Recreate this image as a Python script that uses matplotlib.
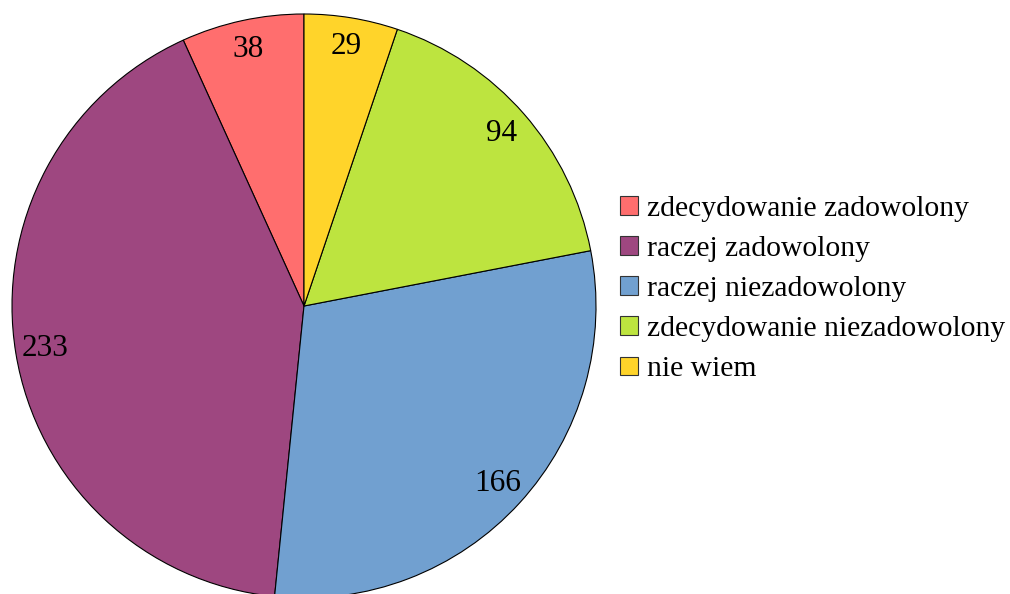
import matplotlib.pyplot as plt
from matplotlib.patches import Patch

# data
labels = ["zdecydowanie zadowolony", "raczej zadowolony", "raczej niezadowolony",
          "zdecydowanie niezadowolony", "nie wiem"]
values = [38, 233, 166, 94, 29]
colors = ["#FF6E6E", "#9E4780", "#71A0D0", "#BDE43F", "#FFD42A"]

plt.rcParams['font.family'] = ['Liberation Serif', 'DejaVu Serif']

W, H = 1010, 594
fig = plt.figure(figsize=(W / 100, H / 100), dpi=100)
cx, cy, r = 304, 594 - 306, 292
ax = fig.add_axes([(cx - r) / W, (cy - r) / H, 2 * r / W, 2 * r / H])

wedges, texts = ax.pie(values, labels=[str(v) for v in values], colors=colors,
                       startangle=90, labeldistance=0.9,
                       wedgeprops=dict(edgecolor="black", linewidth=0.8),
                       textprops=dict(fontsize=22.5, ha="center", va="center"))
ax.set_xlim(-1, 1)
ax.set_ylim(-1, 1)
ax.set_aspect("equal")
ax.axis("off")

handles = [Patch(facecolor=c, edgecolor="#333333", linewidth=0.8) for c in colors]
fig.legend(handles, labels, loc="center left", bbox_to_anchor=(620 / W, 1 - 289 / H),
           frameon=False, fontsize=21.3, handlelength=0.6, handleheight=0.6,
           handletextpad=0.3, labelspacing=0.48, borderpad=0, borderaxespad=0)

fig.savefig("out.png", dpi=100)
